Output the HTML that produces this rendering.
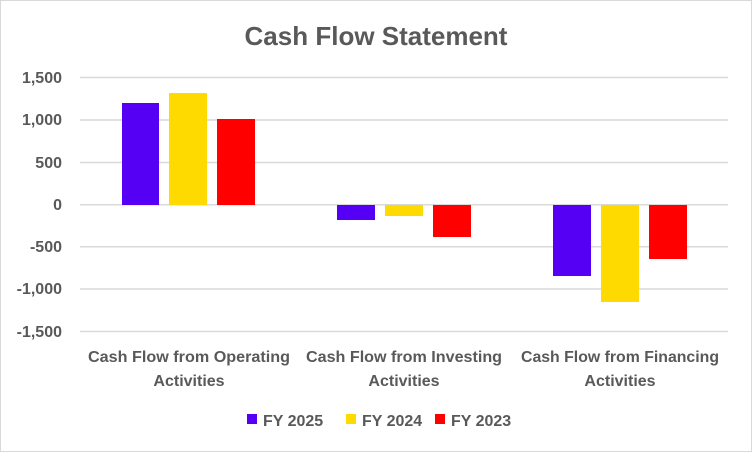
<!DOCTYPE html>
<html><head><style>
body{margin:0;background:#fff}
svg text{font-family:"Liberation Sans",sans-serif;fill:#595959}
</style></head><body>
<svg width="752" height="452" viewBox="0 0 752 452" xmlns="http://www.w3.org/2000/svg">
<rect x="0.5" y="0.5" width="751" height="451" fill="#fff" stroke="#d9d9d9"/>
<text x="376" y="45" font-size="26" text-anchor="middle" font-weight="bold" fill="#595959">Cash Flow Statement</text>
<g stroke="#d9d9d9" stroke-width="1.5">
<line x1="80" x2="728" y1="77.5" y2="77.5"/>
<line x1="80" x2="728" y1="120" y2="120"/>
<line x1="80" x2="728" y1="162.5" y2="162.5"/>
<line x1="80" x2="728" y1="204.7" y2="204.7"/>
<line x1="80" x2="728" y1="246.8" y2="246.8"/>
<line x1="80" x2="728" y1="289" y2="289"/>
<line x1="80" x2="728" y1="331.5" y2="331.5"/>
</g>
<g font-size="16" text-anchor="end" font-weight="bold">
<text x="62" y="83">1,500</text>
<text x="62" y="125">1,000</text>
<text x="62" y="168">500</text>
<text x="62" y="210">0</text>
<text x="62" y="252">-500</text>
<text x="62" y="294">-1,000</text>
<text x="62" y="337">-1,500</text>
</g>
<rect x="122" y="103" width="37" height="102" fill="#5500f5"/>
<rect x="169" y="93" width="38" height="112" fill="#ffda00"/>
<rect x="217" y="119" width="38" height="86" fill="#ff0000"/>
<rect x="337" y="205" width="38" height="15" fill="#5500f5"/>
<rect x="385" y="205" width="38" height="11" fill="#ffda00"/>
<rect x="433" y="205" width="38" height="32" fill="#ff0000"/>
<rect x="553" y="205" width="38" height="71" fill="#5500f5"/>
<rect x="601" y="205" width="38" height="97" fill="#ffda00"/>
<rect x="649" y="205" width="38" height="54" fill="#ff0000"/>
<g font-size="16" text-anchor="middle" font-weight="bold">
<text x="189" y="362" textLength="202" lengthAdjust="spacingAndGlyphs">Cash Flow from Operating</text>
<text x="189" y="386">Activities</text>
<text x="404" y="362" textLength="196" lengthAdjust="spacingAndGlyphs">Cash Flow from Investing</text>
<text x="404" y="386">Activities</text>
<text x="620" y="362" textLength="198" lengthAdjust="spacingAndGlyphs">Cash Flow from Financing</text>
<text x="620" y="386">Activities</text>
</g>
<g font-size="16" font-weight="bold">
<rect x="247" y="414" width="10" height="10" fill="#5500f5"/>
<text x="263" y="426">FY 2025</text>
<rect x="346" y="414" width="10" height="10" fill="#ffda00"/>
<text x="362" y="426">FY 2024</text>
<rect x="435" y="414" width="10" height="10" fill="#ff0000"/>
<text x="451" y="426">FY 2023</text>
</g>
</svg>
</body></html>
